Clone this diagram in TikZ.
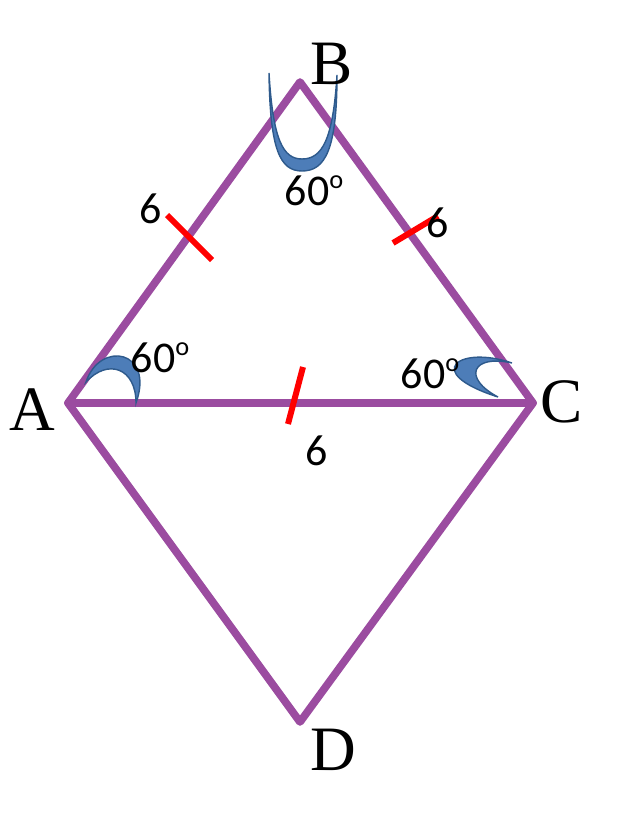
\documentclass[tikz,border=0pt]{standalone}
\usepackage{fontspec}
\setmainfont{Liberation Serif}
\newfontfamily\numfont{Carlito}
\usepackage{tikz}
\usetikzlibrary{calc}
\definecolor{RhombPurple}{HTML}{9B4CA0}
\definecolor{TickRed}{HTML}{FF0000}
\definecolor{ArcBlue}{HTML}{4D7DB8}
\definecolor{ArcDark}{HTML}{2E5A8C}
\newcommand{\dg}{\raisebox{0.8ex}{\fontsize{15}{15}\selectfont o}}
\tikzset{
  side/.style={draw=RhombPurple,line width=4.4pt,line join=round,line cap=round},
  tick/.style={draw=TickRed,line width=3.4pt},
  vlabel/.style={font=\fontsize{36}{36}\selectfont,inner sep=0pt},
  numlabel/.style={font=\numfont\fontsize{25}{25}\selectfont,inner sep=0pt},
  arcmark/.style={fill=ArcBlue,draw=ArcDark,line width=0.8pt},
}
\begin{document}
\begin{tikzpicture}[x=0.02cm,y=-0.02cm]
  \useasboundingbox (0,0) rectangle (625,814);

  % vertices
  \coordinate (A) at (68,403);
  \coordinate (B) at (300,82);
  \coordinate (C) at (533,403);
  \coordinate (D) at (300,722);

  % rhombus and diagonal
  \draw[side] (A) -- (B) -- (C) -- (D) -- cycle;
  \draw[side] (A) -- (C);

  % angle marks
  \path[arcmark] (269,73) .. controls (270,150) and (280,171) .. (302,171)
    .. controls (325,171) and (337,150) .. (337,75)
    .. controls (333,140) and (322,159) .. (302,159)
    .. controls (283,159) and (273,140) .. cycle;
  \path[arcmark] (86,382) .. controls (100,340) and (155,350) .. (136,403)
    .. controls (136,368) and (108,358) .. cycle;
  \path[arcmark] (512,363) .. controls (460,345) and (420,372) .. (498,397)
    .. controls (462,378) and (472,354) .. cycle;

  % equal side ticks
  \draw[tick] (167,215) -- (212,260);
  \draw[tick] (393,243) -- (438,216);
  \draw[tick] (303,367) -- (288,424);

  % vertex names
  \node[vlabel] (lblA) at (32,410) {A};
  \node[vlabel] (lblB) at (332,64) {B};
  \node[vlabel] (lblC) at (562,402) {C};
  \node[vlabel] (lblD) at (333,750) {D};

  % side lengths
  \node[numlabel] (sAB) at (151,209) {6};
  \node[numlabel] (sBC) at (438,223) {6};
  \node[numlabel] (sAC) at (317,451) {6};

  % angles
  \node[numlabel] (angB) at (314,191) {60\dg};
  \node[numlabel] (angA) at (160,358) {60\dg};
  \node[numlabel] (angC) at (430,374) {60\dg};
\end{tikzpicture}
\end{document}
